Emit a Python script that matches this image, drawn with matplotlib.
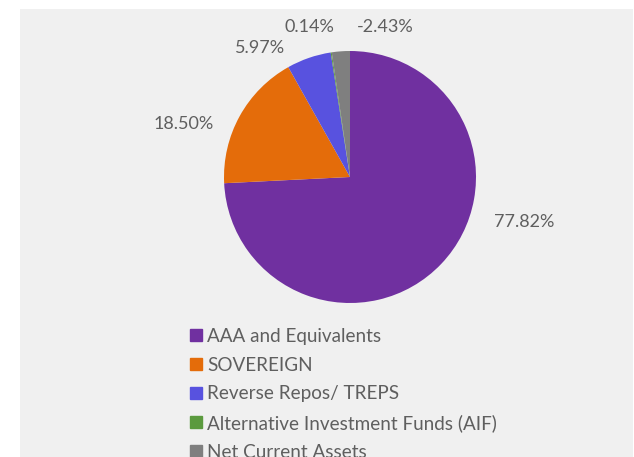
import matplotlib
matplotlib.use("Agg")
import matplotlib.pyplot as plt
from matplotlib.patches import Rectangle
from matplotlib.lines import Line2D

# rating profile data
categories = ["AAA and Equivalents", "SOVEREIGN", "Reverse Repos/ TREPS",
              "Alternative Investment Funds (AIF)", "Net Current Assets"]
values = [77.82, 18.50, 5.97, 0.14, -2.43]
colors = ["#7030A0", "#E46C0A", "#5852DF", "#5B9A3E", "#7F7F7F"]

# where the data labels sit (radius units, Excel best fit look)
label_pos = [(1.38, -0.36), (-1.32, 0.42), (-0.71, 1.02), (-0.32, 1.19), (0.28, 1.19)]

W, H = 634, 457
fig = plt.figure(figsize=(W / 100, H / 100), dpi=100)
fig.patch.set_facecolor("white")

# grey chart area
fig.patches.append(Rectangle((20 / W, 0), (W - 21) / W, (H - 9) / H,
                             transform=fig.transFigure, facecolor="#F0F0F0",
                             edgecolor="none", zorder=-1))

cx, cy, r = 350, 177, 126
half = 1.5 * r
ax = fig.add_axes([(cx - half) / W, (H - cy - half) / H, 2 * half / W, 2 * half / H])
ax.patch.set_visible(False)

font = dict(family="Lato", color="#5F5F5F")

wedges, _ = ax.pie([abs(v) for v in values], colors=colors, startangle=90,
                   counterclock=False, radius=1.0,
                   wedgeprops=dict(linewidth=0))
ax.set_xlim(-1.5, 1.5)
ax.set_ylim(-1.5, 1.5)
ax.set_aspect("equal")
ax.axis("off")

for v, (x, y) in zip(values, label_pos):
    ax.text(x, y, "{0:.2f}%".format(v), ha="center", va="center",
            fontsize=13, clip_on=False, **font)

handles = [Line2D([], [], marker="s", linestyle="none", markersize=8,
                  markerfacecolor=c, markeredgecolor=c) for c in colors]
leg = fig.legend(handles, categories, loc="upper left",
                 bbox_to_anchor=(170 / W, 1 - 311 / H), frameon=False,
                 handletextpad=0.15, labelspacing=0.62, handlelength=0.9,
                 prop=dict(family="Lato", size=13.6))
for t in leg.get_texts():
    t.set_color("#5F5F5F")

fig.savefig("out.png", dpi=100)
